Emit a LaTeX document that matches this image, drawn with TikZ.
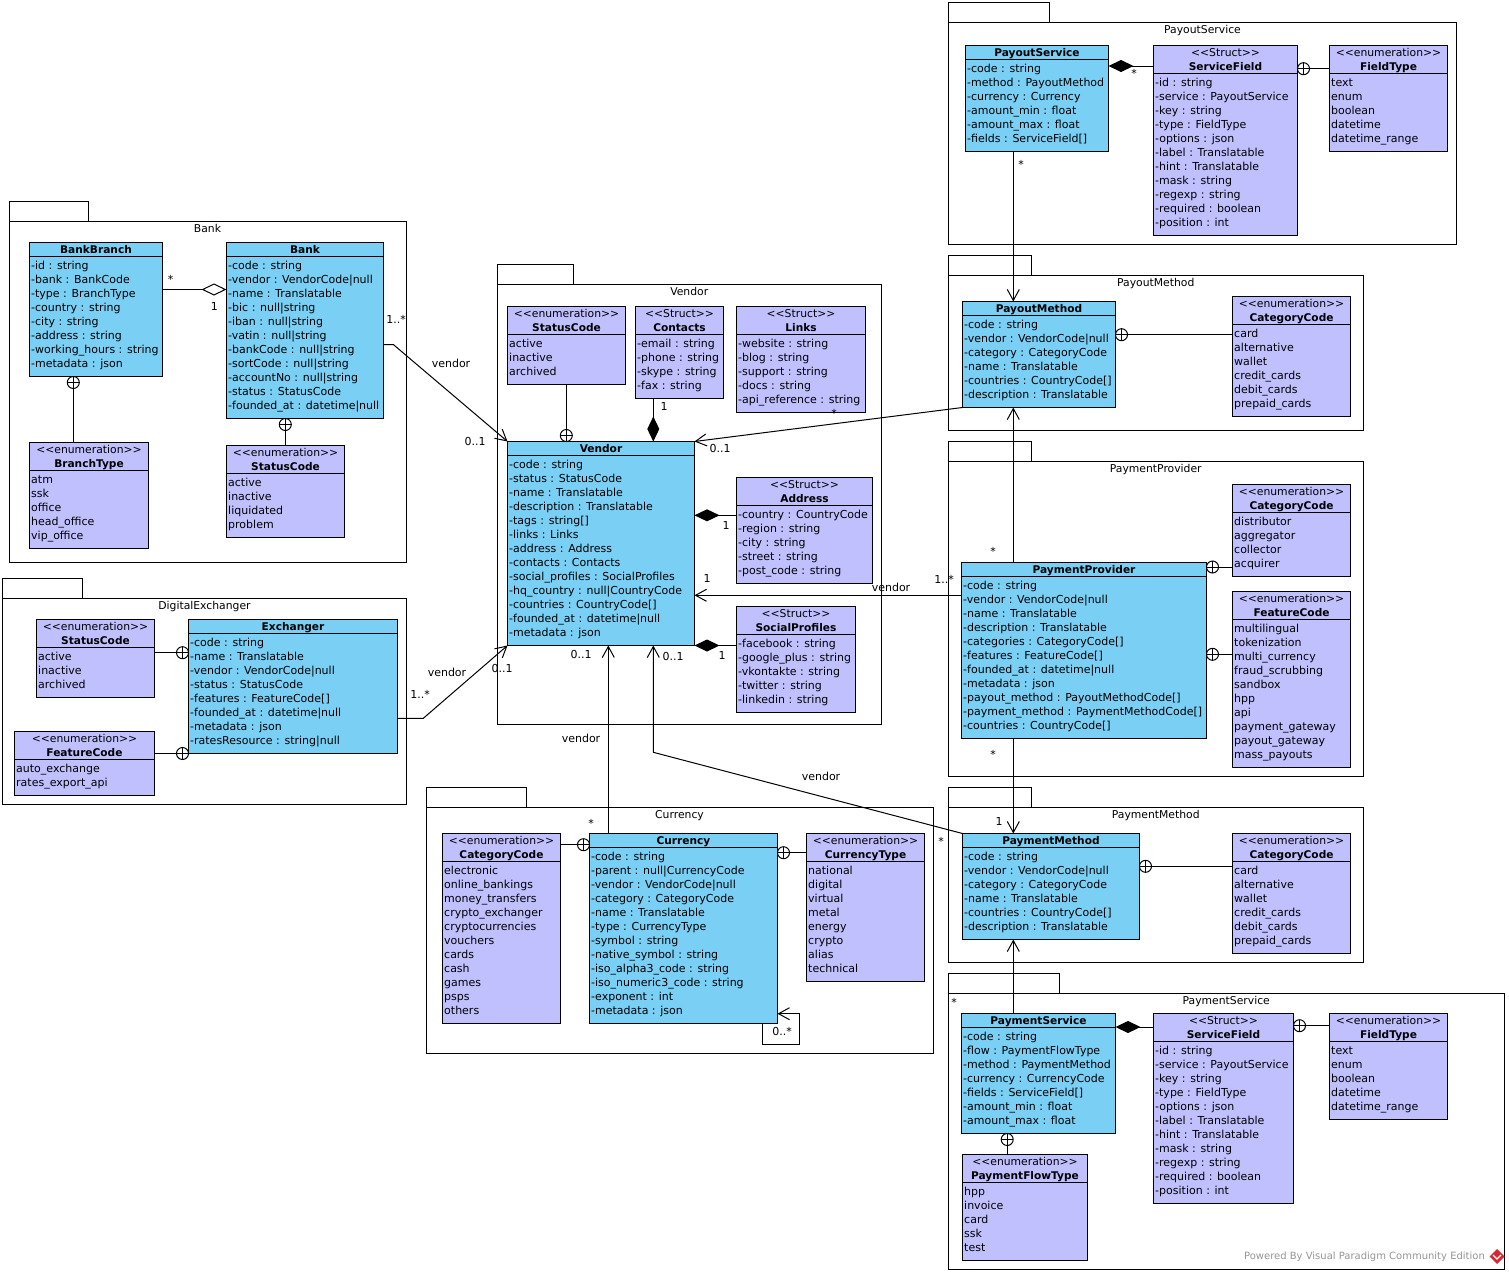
\documentclass[tikz,border=0pt]{standalone}
\usepackage{fontspec}
\setmainfont{DejaVu Sans}
\usetikzlibrary{arrows.meta}
\definecolor{clsblue}{RGB}{122,207,245}
\definecolor{enmlav}{RGB}{192,192,255}
\definecolor{wmgray}{RGB}{150,150,150}
\definecolor{wmred}{RGB}{215,40,50}
\tikzset{
 clsbox/.style={draw=black, line width=1pt, fill=clsblue, anchor=north west, inner sep=0pt, outer sep=0pt},
 enmbox/.style={clsbox, fill=enmlav},
 pkgbox/.style={draw=black, line width=1pt, anchor=north west, inner sep=0pt, outer sep=0pt},
 itm/.style={anchor=base west, inner sep=0pt, font=\fontsize{11}{14}\selectfont},
 ttl/.style={anchor=base, inner sep=0pt, font=\fontsize{10.6}{14}\selectfont\bfseries},
 ste/.style={anchor=base, inner sep=0pt, font=\fontsize{10.8}{14}\selectfont},
 lab/.style={inner sep=0pt, text height=8pt, text depth=0pt, anchor=center, font=\fontsize{11}{14}\selectfont},
 ln/.style={draw=black, line width=1pt},
 opn/.style={-{Straight Barb[length=11pt,width=12pt]}},
 comp/.style={{Diamond[length=25pt,width=12pt]}-},
 aggr/.style={{Diamond[length=25pt,width=12pt,fill=white]}-},
 nestc/.style={draw=black, line width=1pt, fill=white, circle, minimum size=12pt, inner sep=0pt, outer sep=0pt},
}
\newcommand\Cls[7]{%
 \pgfmathsetmacro\Wd{#4-#2}\pgfmathsetmacro\Ht{22+14*#5}%
 \node[clsbox, minimum width=\Wd pt, minimum height=\Ht pt] (#1) at (#2,#3) {};
 \draw[line width=1pt] (#2,#3+14) -- (#4,#3+14);
 \node[ttl] (#1-title) at ({(#2+#4)/2},#3+11) {#6};
 \foreach \tx [count=\ii] in {#7} {\node[itm] (#1-\ii) at (#2+1.5,{#3+27+14*(\ii-1)}) {\tx};}
}
\newcommand\Ste[8]{%
 \pgfmathsetmacro\Wd{#4-#2}\pgfmathsetmacro\Ht{36+14*#5}%
 \node[enmbox, minimum width=\Wd pt, minimum height=\Ht pt] (#1) at (#2,#3) {};
 \draw[line width=1pt] (#2,#3+28) -- (#4,#3+28);
 \node[ste] (#1-st) at ({(#2+#4)/2},#3+11) {<{}<#6>{}>};
 \node[ttl] (#1-title) at ({(#2+#4)/2},#3+25) {#7};
 \foreach \tx [count=\ii] in {#8} {\node[itm] (#1-\ii) at (#2+1.5,{#3+41+14*(\ii-1)}) {\tx};}
}
\newcommand\Pkg[8]{%
 \pgfmathsetmacro\Wd{#4-#2}\pgfmathsetmacro\Ht{#5-#3}%
 \node[pkgbox, minimum width=\Wd pt, minimum height=\Ht pt] (#1-tab) at (#2,#3) {};
 \pgfmathsetmacro\Wd{#6-#2}\pgfmathsetmacro\Ht{#7-#5}%
 \node[pkgbox, minimum width=\Wd pt, minimum height=\Ht pt] (#1) at (#2,#5) {};
 \node[ste] (#1-name) at ({(#2+#6)/2},#5+11) {#8};
}
\newcommand\Nest[3]{%
 \node[nestc] (#1) at (#2,#3) {};
 \draw[line width=1pt] (#1.west) -- (#1.east) (#1.north) -- (#1.south);
}
\newcommand\Lab[4]{\node[lab] (#1) at (#2,#3) {#4};}
\begin{document}
\begin{tikzpicture}[x=1pt,y=-1pt]
\fill[white] (0,0) rectangle (1509,1274);
\useasboundingbox (0,0) rectangle (1509,1274);

% ---------- packages ----------
\Pkg{pBank}{9}{201}{88}{221}{406}{562}{Bank}
\Pkg{pVendor}{497}{264.5}{573}{284.5}{881.5}{724}{Vendor}
\Pkg{pPayoutService}{948.5}{2.5}{1049}{22.5}{1456.5}{244}{PayoutService}
\Pkg{pPayoutMethod}{948.5}{255.5}{1031}{275}{1363}{430}{PayoutMethod}
\Pkg{pPaymentProvider}{948.5}{441.5}{1031}{461.5}{1363}{776}{PaymentProvider}
\Pkg{pPaymentMethod}{948.5}{787.5}{1031}{807}{1363}{962}{PaymentMethod}
\Pkg{pPaymentService}{948.5}{973.5}{1059}{993.5}{1504}{1269}{PaymentService}
\Pkg{pDigital}{2.5}{578.5}{82}{598.5}{406.5}{804}{DigitalExchanger}
\Pkg{pCurrency}{426}{787.5}{526}{807.5}{933}{1053}{Currency}

% ---------- Bank ----------
\Cls{bankbranch}{29.5}{242.5}{162.5}{8}{BankBranch}{-id : string,-bank : BankCode,-type : BranchType,-country : string,-city : string,-address : string,-working\_hours : string,-metadata : json}
\Cls{bank}{226.5}{242.5}{383.5}{11}{Bank}{-code : string,-vendor : VendorCode|null,-name : Translatable,-bic : null|string,-iban : null|string,-vatin : null|string,-bankCode : null|string,-sortCode : null|string,-accountNo : null|string,-status : StatusCode,-founded\_at : datetime|null}
\Ste{branchtype}{29.5}{442.5}{148.5}{5}{enumeration}{BranchType}{atm,ssk,office,head\_office,vip\_office}
\Ste{bankstatus}{226.5}{445.5}{344.5}{4}{enumeration}{StatusCode}{active,inactive,liquidated,problem}

% ---------- Vendor ----------
\Ste{vstatus}{507.5}{306.5}{625.5}{3}{enumeration}{StatusCode}{active,inactive,archived}
\Ste{contacts}{635.5}{306.5}{723.5}{4}{Struct}{Contacts}{-email : string,-phone : string,-skype : string,-fax : string}
\Ste{links}{736.5}{306.5}{865.5}{5}{Struct}{Links}{-website : string,-blog : string,-support : string,-docs : string,-api\_reference : string}
\Cls{vendor}{507.5}{441.5}{694.5}{13}{Vendor}{-code : string,-status : StatusCode,-name : Translatable,-description : Translatable,-tags : string[],-links : Links,-address : Address,-contacts : Contacts,-social\_profiles : SocialProfiles,-hq\_country : null|CountryCode,-countries : CountryCode[],-founded\_at : datetime|null,-metadata : json}
\Ste{address}{736.5}{477.5}{872.5}{5}{Struct}{Address}{-country : CountryCode,-region : string,-city : string,-street : string,-post\_code : string}
\Ste{social}{736.5}{606.5}{855.5}{5}{Struct}{SocialProfiles}{-facebook : string,-google\_plus : string,-vkontakte : string,-twitter : string,-linkedin : string}

% ---------- DigitalExchanger ----------
\Ste{exstatus}{36.5}{619.5}{154.5}{3}{enumeration}{StatusCode}{active,inactive,archived}
\Ste{exfeature}{14.5}{731.5}{154.5}{2}{enumeration}{FeatureCode}{auto\_exchange,rates\_export\_api}
\Cls{exchanger}{188.5}{619.5}{397.5}{8}{Exchanger}{-code : string,-name : Translatable,-vendor : VendorCode|null,-status : StatusCode,-features : FeatureCode[],-founded\_at : datetime|null,-metadata : json,-ratesResource : string|null}

% ---------- Currency ----------
\Ste{curcat}{442.5}{833.5}{560.5}{11}{enumeration}{CategoryCode}{electronic,online\_bankings,money\_transfers,crypto\_exchanger,cryptocurrencies,vouchers,cards,cash,games,psps,others}
\Cls{currency}{589.5}{833.5}{777.5}{12}{Currency}{-code : string,-parent : null|CurrencyCode,-vendor : VendorCode|null,-category : CategoryCode,-name : Translatable,-type : CurrencyType,-symbol : string,-native\_symbol : string,-iso\_alpha3\_code : string,-iso\_numeric3\_code : string,-exponent : int,-metadata : json}
\Ste{curtype}{806.5}{833.5}{924.5}{8}{enumeration}{CurrencyType}{national,digital,virtual,metal,energy,crypto,alias,technical}

% ---------- PayoutService ----------
\Cls{payoutservice}{965.5}{45.5}{1108.5}{6}{PayoutService}{-code : string,-method : PayoutMethod,-currency : Currency,-amount\_min : float,-amount\_max : float,-fields : ServiceField[]}
\Ste{posfield}{1153.5}{45.5}{1297.5}{11}{Struct}{ServiceField}{-id : string,-service : PayoutService,-key : string,-type : FieldType,-options : json,-label : Translatable,-hint : Translatable,-mask : string,-regexp : string,-required : boolean,-position : int}
\Ste{posftype}{1329.5}{45.5}{1447.5}{5}{enumeration}{FieldType}{text,enum,boolean,datetime,datetime\_range}

% ---------- PayoutMethod ----------
\Cls{payoutmethod}{962.5}{301.5}{1115.5}{6}{PayoutMethod}{-code : string,-vendor : VendorCode|null,-category : CategoryCode,-name : Translatable,-countries : CountryCode[],-description : Translatable}
\Ste{pomcat}{1232.5}{296.5}{1350.5}{6}{enumeration}{CategoryCode}{card,alternative,wallet,credit\_cards,debit\_cards,prepaid\_cards}

% ---------- PaymentProvider ----------
\Cls{paymentprovider}{961.5}{562.5}{1206.5}{11}{PaymentProvider}{-code : string,-vendor : VendorCode|null,-name : Translatable,-description : Translatable,-categories : CategoryCode[],-features : FeatureCode[],-founded\_at : datetime|null,-metadata : json,-payout\_method : PayoutMethodCode[],-payment\_method : PaymentMethodCode[],-countries : CountryCode[]}
\Ste{ppcat}{1232.5}{484.5}{1350.5}{4}{enumeration}{CategoryCode}{distributor,aggregator,collector,acquirer}
\Ste{ppfeat}{1232.5}{591.5}{1350.5}{10}{enumeration}{FeatureCode}{multilingual,tokenization,multi\_currency,fraud\_scrubbing,sandbox,hpp,api,payment\_gateway,payout\_gateway,mass\_payouts}

% ---------- PaymentMethod ----------
\Cls{paymentmethod}{962.5}{833.5}{1139.5}{6}{PaymentMethod}{-code : string,-vendor : VendorCode|null,-category : CategoryCode,-name : Translatable,-countries : CountryCode[],-description : Translatable}
\Ste{pmcat}{1232.5}{833.5}{1350.5}{6}{enumeration}{CategoryCode}{card,alternative,wallet,credit\_cards,debit\_cards,prepaid\_cards}

% ---------- PaymentService ----------
\Cls{paymentservice}{961.5}{1013.5}{1115.5}{7}{PaymentService}{-code : string,-flow : PaymentFlowType,-method : PaymentMethod,-currency : CurrencyCode,-fields : ServiceField[],-amount\_min : float,-amount\_max : float}
\Ste{psfield}{1153.5}{1013.5}{1293.5}{11}{Struct}{ServiceField}{-id : string,-service : PayoutService,-key : string,-type : FieldType,-options : json,-label : Translatable,-hint : Translatable,-mask : string,-regexp : string,-required : boolean,-position : int}
\Ste{psftype}{1329.5}{1013.5}{1447.5}{5}{enumeration}{FieldType}{text,enum,boolean,datetime,datetime\_range}
\Ste{flowtype}{962.5}{1154.5}{1087.5}{5}{enumeration}{PaymentFlowType}{hpp,invoice,card,ssk,test}

% ---------- associations ----------
\draw[ln, aggr] (bank.west |- 0,289.5) -- (bankbranch.east |- 0,289.5);
\draw[ln, opn] (bank.east |- 0,344.5) -- (393.3,344.5) -- (vendor.north west);
\draw[ln, opn] (exchanger.east |- 0,718.3) -- (423.3,718.3) -- (vendor.south west);
\draw[ln, opn] (payoutmethod.south west) -- (vendor.north east);
\draw[ln, opn] (paymentprovider.west |- 0,595.3) -- (vendor.east |- 0,595.3);
\draw[ln, opn] (currency.north -| 608.3,0) -- (vendor.south -| 608.3,0);
\draw[ln, opn] (paymentmethod.north west) -- (653.3,752.3) -- (vendor.south -| 653.3,0);
\draw[ln, comp] (vendor.north -| 653.3,0) -- (contacts.south -| 653.3,0);
\draw[ln, comp] (vendor.east |- 0,515.3) -- (address.west |- 0,515.3);
\draw[ln, comp] (vendor.south east) -- (social.west |- vendor.south east);
\draw[ln, comp] (payoutservice.east |- 0,66) -- (posfield.west |- 0,66);
\draw[ln, comp] (paymentservice.east |- 0,1027) -- (psfield.west |- 0,1027);
\draw[ln, opn] (payoutservice.south -| 1013.3,0) -- (payoutmethod.north -| 1013.3,0);
\draw[ln, opn] (paymentprovider.north -| 1013.3,0) -- (payoutmethod.south -| 1013.3,0);
\draw[ln, opn] (paymentprovider.south -| 1013.3,0) -- (paymentmethod.north -| 1013.3,0);
\draw[ln, opn] (paymentservice.north -| 1013.3,0) -- (paymentmethod.south -| 1013.3,0);
\draw[ln, opn] (currency.south -| 762.7,0) -- (762.7,1044) -- (799.3,1044) -- (799.3,1013.7) -- (currency.east |- 0,1013.7);

% ---------- nesting ----------
\Nest{nBB}{73.3}{382.5}
\draw[ln] (nBB.south) -- (branchtype.north -| nBB.south);
\Nest{nBK}{285.3}{424.5}
\draw[ln] (nBK.south) -- (bankstatus.north -| nBK.south);
\Nest{nVS}{566.3}{435.5}
\draw[ln] (vstatus.south -| nVS.north) -- (nVS.north);
\Nest{nEX1}{182.5}{652.7}
\draw[ln] (exstatus.east |- nEX1.west) -- (nEX1.west);
\Nest{nEX2}{182.5}{753.5}
\draw[ln] (exfeature.east |- nEX2.west) -- (nEX2.west);
\Nest{nCU1}{583.5}{844.7}
\draw[ln] (curcat.east |- nCU1.west) -- (nCU1.west);
\Nest{nCU2}{783.5}{852.7}
\draw[ln] (nCU2.east) -- (curtype.west |- nCU2.east);
\Nest{nPOS}{1303.5}{68.7}
\draw[ln] (nPOS.east) -- (posftype.west |- nPOS.east);
\Nest{nPOM}{1121.5}{334.7}
\draw[ln] (nPOM.east) -- (pomcat.west |- nPOM.east);
\Nest{nPP1}{1212.5}{567}
\draw[ln] (nPP1.east) -- (ppcat.west |- nPP1.east);
\Nest{nPP2}{1212.5}{654.3}
\draw[ln] (nPP2.east) -- (ppfeat.west |- nPP2.east);
\Nest{nPM}{1145.5}{866.3}
\draw[ln] (nPM.east) -- (pmcat.west |- nPM.east);
\Nest{nPS}{1299.5}{1025.7}
\draw[ln] (nPS.east) -- (psftype.west |- nPS.east);
\Nest{nPSF}{1007.2}{1139.5}
\draw[ln] (nPSF.south) -- (flowtype.north -| nPSF.south);

% ---------- labels ----------
\Lab{l1}{170.7}{279}{*}
\Lab{l2}{214.3}{306}{1}
\Lab{l3}{396}{319}{1..*}
\Lab{l4}{451}{363}{vendor}
\Lab{l5}{475}{441}{0..1}
\Lab{l6}{664}{406}{1}
\Lab{l7}{720}{448}{0..1}
\Lab{l8}{834}{413}{*}
\Lab{l9}{726}{525}{1}
\Lab{l10}{707}{578}{1}
\Lab{l11}{891}{587}{vendor}
\Lab{l12}{944}{579}{1..*}
\Lab{l13}{722}{655}{1}
\Lab{l14}{581}{654}{0..1}
\Lab{l15}{673}{656}{0..1}
\Lab{l16}{447}{672}{vendor}
\Lab{l17}{420}{694}{1..*}
\Lab{l18}{502}{668}{0..1}
\Lab{l19}{581}{738}{vendor}
\Lab{l20}{591}{823}{*}
\Lab{l21}{821}{776}{vendor}
\Lab{l22}{941}{841}{*}
\Lab{l23}{1134}{73}{*}
\Lab{l24}{1021}{164}{*}
\Lab{l25}{993}{551}{*}
\Lab{l26}{993}{754}{*}
\Lab{l27}{999}{821}{1}
\Lab{l28}{954}{1002}{*}
\Lab{l29}{782}{1031}{0..*}

% ---------- watermark ----------
\node[inner sep=0pt, font=\fontsize{10}{12}\selectfont, text=wmgray] (wm) at (1364.5,1257) {Powered By Visual Paradigm Community Edition};
\fill[wmred] (1497,1249) -- (1504.5,1256.5) -- (1497,1264) -- (1489.5,1256.5) -- cycle;
\draw[white, line width=1.2pt] (1493,1255) -- (1497,1259) -- (1501,1255);
\end{tikzpicture}
\end{document}
